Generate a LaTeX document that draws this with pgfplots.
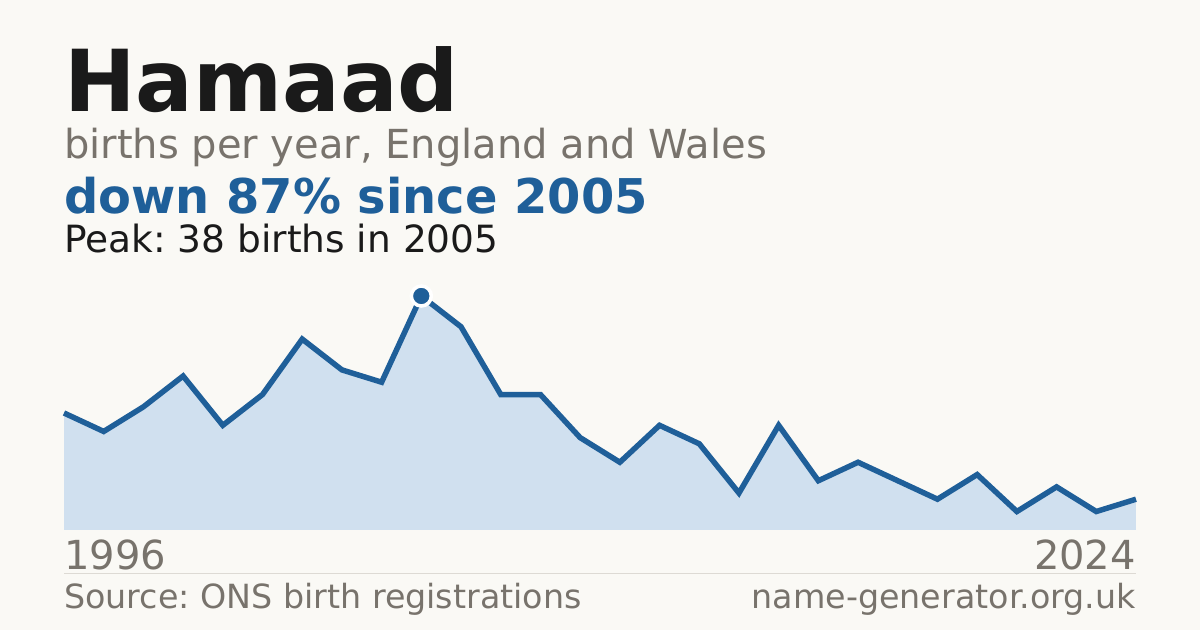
\documentclass[border=0pt]{standalone}
\usepackage{pgfplots}
\pgfplotsset{compat=1.18}
\usepackage{fontspec}
\setmainfont{DejaVu Sans}
\frenchspacing
\definecolor{bg}{HTML}{FAF9F5}
\definecolor{ink}{HTML}{1A1A1A}
\definecolor{muted}{HTML}{78736C}
\definecolor{accent}{HTML}{1F5F99}
\definecolor{areafill}{HTML}{D0E0EF}
\definecolor{rule}{HTML}{DDDAD4}
\pgfplotstableread{
idx births
0 19
1 16
2 20
3 25
4 17
5 22
6 31
7 26
8 24
9 38
10 33
11 22
12 22
13 15
14 11
15 17
16 14
17 6
18 17
19 8
20 11
21 8
22 5
23 9
24 3
25 7
26 3
27 5
}\births
\begin{document}
\begin{tikzpicture}[x=1bp,y=1bp]
\fill[bg] (0,0) rectangle (1200,630);
\node[anchor=base west, inner sep=0, text=ink] at (64,518) {\fontsize{85.5bp}{96bp}\selectfont\bfseries Hamaad};
\node[anchor=base west, inner sep=0, text=muted] at (64,471) {\fontsize{40bp}{44bp}\selectfont births per year, England and Wales};
\node[anchor=base west, inner sep=0, text=accent] at (64,416) {\fontsize{47.9bp}{52bp}\selectfont\bfseries down 87\% since 2005};
\node[anchor=base west, inner sep=0, text=ink] at (64,377) {\fontsize{37.5bp}{42bp}\selectfont Peak: 38 births in 2005};
\begin{axis}[
  at={(64bp,100bp)}, anchor=south west,
  scale only axis, width=1072bp, height=234bp,
  xmin=0, xmax=27, ymin=0, ymax=38,
  hide axis, clip=false,
]
\addplot[fill=areafill, draw=none] table[x=idx,y=births] {\births} \closedcycle;
\addplot[color=accent, line width=5.5bp, line join=miter] table[x=idx,y=births] {\births};
\addplot[only marks, mark=*, mark size=10bp, mark options={fill=accent, draw=white, line width=3.5bp}] coordinates {(9,38)};
\end{axis}
\draw[rule, line width=1bp] (64,56) -- (1136,56);
\node[anchor=base west, inner sep=0, text=muted] at (64,60) {\fontsize{40bp}{44bp}\selectfont 1996};
\node[anchor=base east, inner sep=0, text=muted] at (1136,60) {\fontsize{40bp}{44bp}\selectfont 2024};
\node[anchor=base west, inner sep=0, text=muted] at (64,21) {\fontsize{33.3bp}{38bp}\selectfont Source: ONS birth registrations};
\node[anchor=base east, inner sep=0, text=muted] at (1136,21) {\fontsize{33.3bp}{38bp}\selectfont name-generator.org.uk};
\end{tikzpicture}
\end{document}
